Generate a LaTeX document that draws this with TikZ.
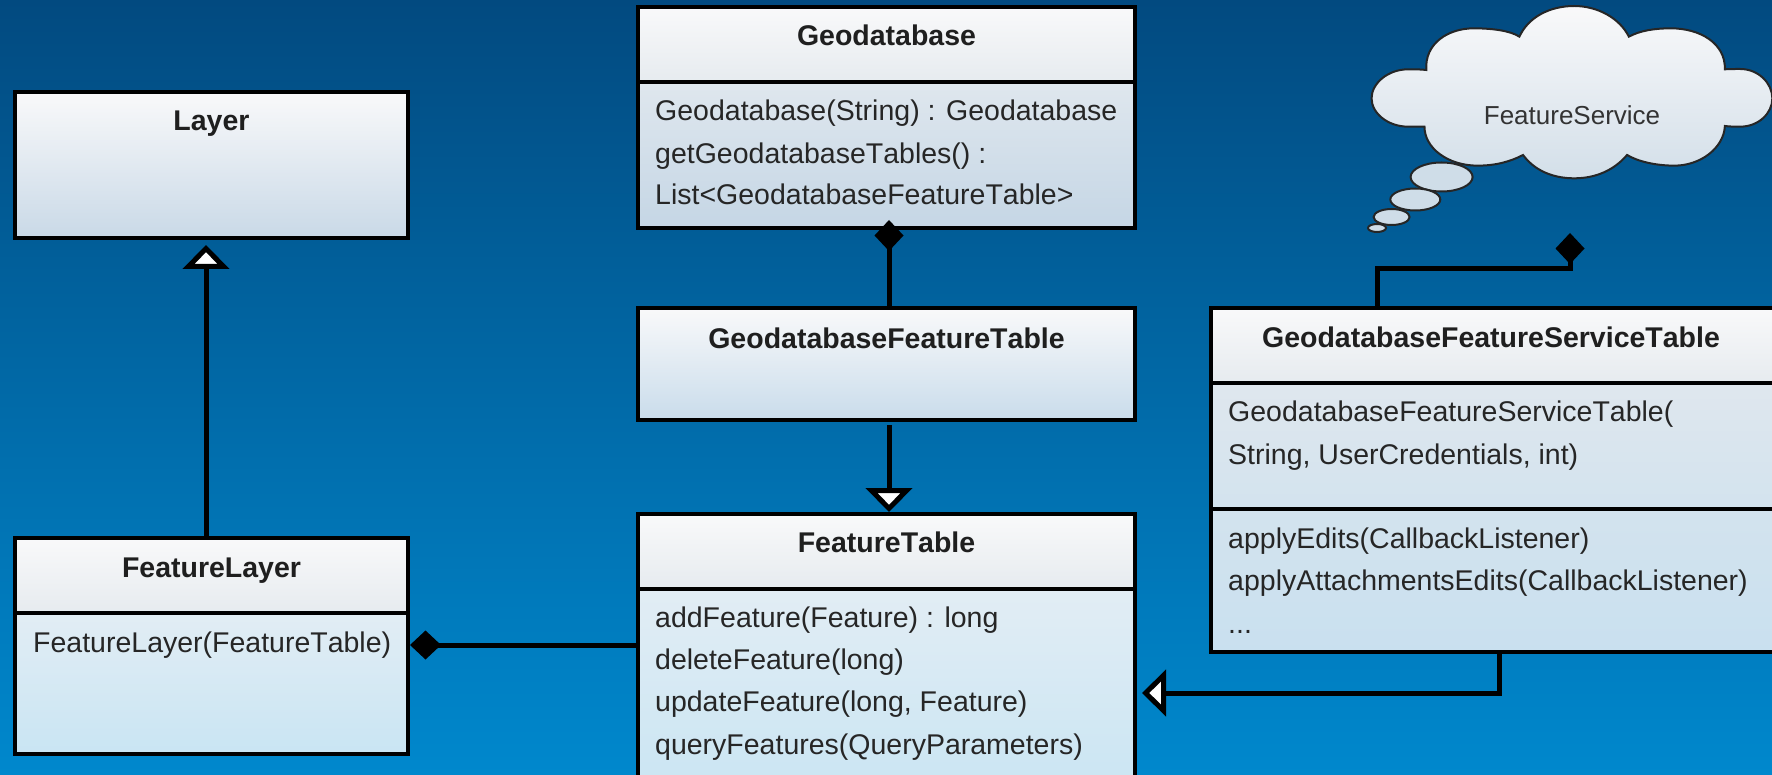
\documentclass[tikz,border=0pt]{standalone}
\usepackage{fontspec}
\setmainfont{Liberation Sans}[Kerning=Off]
\usetikzlibrary{arrows.meta,shapes.geometric,calc}
\definecolor{bgtop}{HTML}{024A80}
\definecolor{bgbot}{HTML}{0088CD}
\definecolor{HEX0}{HTML}{F9F9FA}
\definecolor{HEX1}{HTML}{C9D9E7}
\definecolor{HEX1m}{HTML}{DDE5EC}
\definecolor{HEX1b}{HTML}{C9DCEB}
\definecolor{HEX2}{HTML}{E6EBEF}
\definecolor{HEX3}{HTML}{E2EDF4}
\definecolor{HEX4}{HTML}{C9E5F3}
\definecolor{HEX5}{HTML}{DFE7EE}
\definecolor{HEX6}{HTML}{C5D6E5}
\definecolor{HEX7}{HTML}{D3E3EE}
\definecolor{HEX8}{HTML}{C9E0EF}
\definecolor{HEX9}{HTML}{D3DFE9}
\definecolor{HEX10}{HTML}{CFDDE8}
\tikzset{
  x=1pt,y=-1pt,
  comp/.style={draw=black,line width=4.5pt,rectangle,inner sep=0pt,outer sep=0pt,anchor=north west},
  head/.style={comp,top color=HEX0,bottom color=HEX2},
  title/.style={inner sep=0pt,font=\fontsize{28.5}{30}\selectfont\bfseries,text=black!88,anchor=base},
  member/.style={inner sep=0pt,font=\fontsize{28.5}{30}\selectfont,text=black!85,anchor=base west},
  link/.style={draw=black,line width=5pt},
  compo/.style={-{Diamond[length=31pt,width=29pt,fill=black]}},
  inherit/.style={-{Triangle[length=24pt,width=46pt,fill=white,line width=5pt]}},
  bubble/.style={draw=black!85,line width=2pt,ellipse,inner sep=0pt,outer sep=0pt},
}
\begin{document}
\begin{tikzpicture}
\useasboundingbox (0,0) rectangle (1772,775);
\clip (0,0) rectangle (1772,775);
\path[top color=bgtop,bottom color=bgbot] (0,0) rectangle (1772,775);

% Layer
\node[comp,minimum width=393pt,minimum height=146pt,top color=HEX0,middle color=HEX1m,bottom color=HEX1] (layer) at (15,92) {};
\node[title] (layerT) at (211.5,131) {Layer};

% FeatureLayer
\node[head,minimum width=393pt,minimum height=75pt] (flh) at (15,538) {};
\node[comp,minimum width=393pt,minimum height=141pt,top color=HEX3,bottom color=HEX4] (flb) at (15,613) {};
\node[title] (flT) at (211.5,577) {FeatureLayer};
\node[member] (fl1) at (33,652) {FeatureLayer(FeatureTable)};

% Geodatabase
\node[head,minimum width=497pt,minimum height=75pt] (gh) at (638,7) {};
\node[comp,minimum width=497pt,minimum height=146pt,top color=HEX5,bottom color=HEX6] (gb) at (638,82) {};
\node[title] (gT) at (886.5,45.5) {Geodatabase};
\node[member] (g1) at (655,121) {Geodatabase(String) : Geodatabase};
\node[member] (g2) at (655,164) {getGeodatabaseTables() :};
\node[member] (g3) at (655,205) {List<GeodatabaseFeatureTable>};

% GeodatabaseFeatureTable
\node[comp,minimum width=497pt,minimum height=112pt,top color=HEX0,middle color=HEX1m,bottom color=HEX1b] (gft) at (638,308) {};
\node[title] (gftT) at (886.5,349) {GeodatabaseFeatureTable};

% FeatureTable
\node[head,minimum width=497pt,minimum height=75pt] (fth) at (638,514) {};
\node[comp,minimum width=497pt,minimum height=210pt,top color=HEX3,bottom color=HEX4] (ftb) at (638,589) {};
\node[title] (ftT) at (886.5,552) {FeatureTable};
\node[member] (ft1) at (655,627) {addFeature(Feature) : long};
\node[member] (ft2) at (655,669) {deleteFeature(long)};
\node[member] (ft3) at (655,711) {updateFeature(long, Feature)};
\node[member] (ft4) at (655,754) {queryFeatures(QueryParameters)};

% GeodatabaseFeatureServiceTable
\node[head,minimum width=580pt,minimum height=75pt] (sh) at (1211,308) {};
\node[comp,minimum width=580pt,minimum height=126pt,top color=HEX5,bottom color=HEX7] (sm) at (1211,383) {};
\node[comp,minimum width=580pt,minimum height=143pt,top color=HEX7,bottom color=HEX8] (sb) at (1211,509) {};
\node[title] (sT) at (1491,348) {GeodatabaseFeatureServiceTable};
\node[member] (s1) at (1228,421) {GeodatabaseFeatureServiceTable(};
\node[member] (s2) at (1228,464) {String, UserCredentials, int)};
\node[member] (s3) at (1228,548) {applyEdits(CallbackListener)};
\node[member] (s4) at (1228,590) {applyAttachmentsEdits(CallbackListener)};
\node[member] (s5) at (1228,633) {...};

% Cloud
\begin{scope}[shift={(1200pt,0pt)},x=0.365pt,y=-0.3333pt]
\path[draw=black!85,line width=2pt,top color=HEX0,bottom color=HEX9]
  (620,210) .. controls (615,130) and (680,85) .. (750,85)
  .. controls (800,85) and (850,92) .. (875,110)
  .. controls (900,50) and (960,18) .. (1025,18)
  .. controls (1090,18) and (1150,55) .. (1175,110)
  .. controls (1205,92) and (1245,85) .. (1290,85)
  .. controls (1370,85) and (1440,130) .. (1438,208)
  .. controls (1450,207) and (1465,207) .. (1480,207)
  .. controls (1530,207) and (1568,250) .. (1568,295)
  .. controls (1568,340) and (1530,380) .. (1480,380)
  .. controls (1465,380) and (1450,380) .. (1438,378)
  .. controls (1435,445) and (1370,497) .. (1300,497)
  .. controls (1250,497) and (1200,485) .. (1170,465)
  .. controls (1135,510) and (1085,535) .. (1025,535)
  .. controls (965,535) and (915,510) .. (885,465)
  .. controls (850,485) and (810,497) .. (760,497)
  .. controls (680,497) and (615,445) .. (615,380)
  .. controls (600,380) and (590,380) .. (570,380)
  .. controls (515,380) and (470,340) .. (470,295)
  .. controls (470,250) and (515,208) .. (570,208)
  .. controls (590,208) and (605,208) .. (620,210) -- cycle;
\end{scope}
\node[inner sep=0pt,anchor=base,font=\fontsize{26}{28}\selectfont,text=black!80] (cloud) at (1572,125) {FeatureService};
\node[bubble,minimum width=62pt,minimum height=29pt,fill=HEX10] (b1) at (1441.6,177) {};
\node[bubble,minimum width=50pt,minimum height=22pt,fill=HEX10] (b2) at (1415.3,199.5) {};
\node[bubble,minimum width=36pt,minimum height=16pt,fill=HEX10] (b3) at (1391.6,217) {};
\node[bubble,minimum width=18pt,minimum height=8pt,fill=HEX10] (b4) at (1377,228) {};

% Connector end points
\coordinate (tipLayer) at (206,245);
\coordinate (tipFL) at (410,645);
\coordinate (tipG) at (889,220);
\coordinate (tipCloud) at (1570,233);
\coordinate (tipFT) at (889,512);
\coordinate (tipS) at (1142,693);
\coordinate (fromS) at (1499,652);
\coordinate (fromSR) at (1377,308);

\draw[link,inherit] (tipLayer |- flh.north) -- (tipLayer);
\draw[link,compo] (tipFL -| ftb.west) -- (tipFL);
\draw[link,compo] (tipG |- gft.north) -- (tipG);
\draw[link,inherit,shorten <=5pt] (tipFT |- gft.south) -- (tipFT);
\draw[link,compo] (fromSR) -- (1377,269) -- (1570,269) -- (tipCloud);
\draw[link,inherit] (fromS) -- (fromS |- tipS) -- (tipS);
\end{tikzpicture}
\end{document}
